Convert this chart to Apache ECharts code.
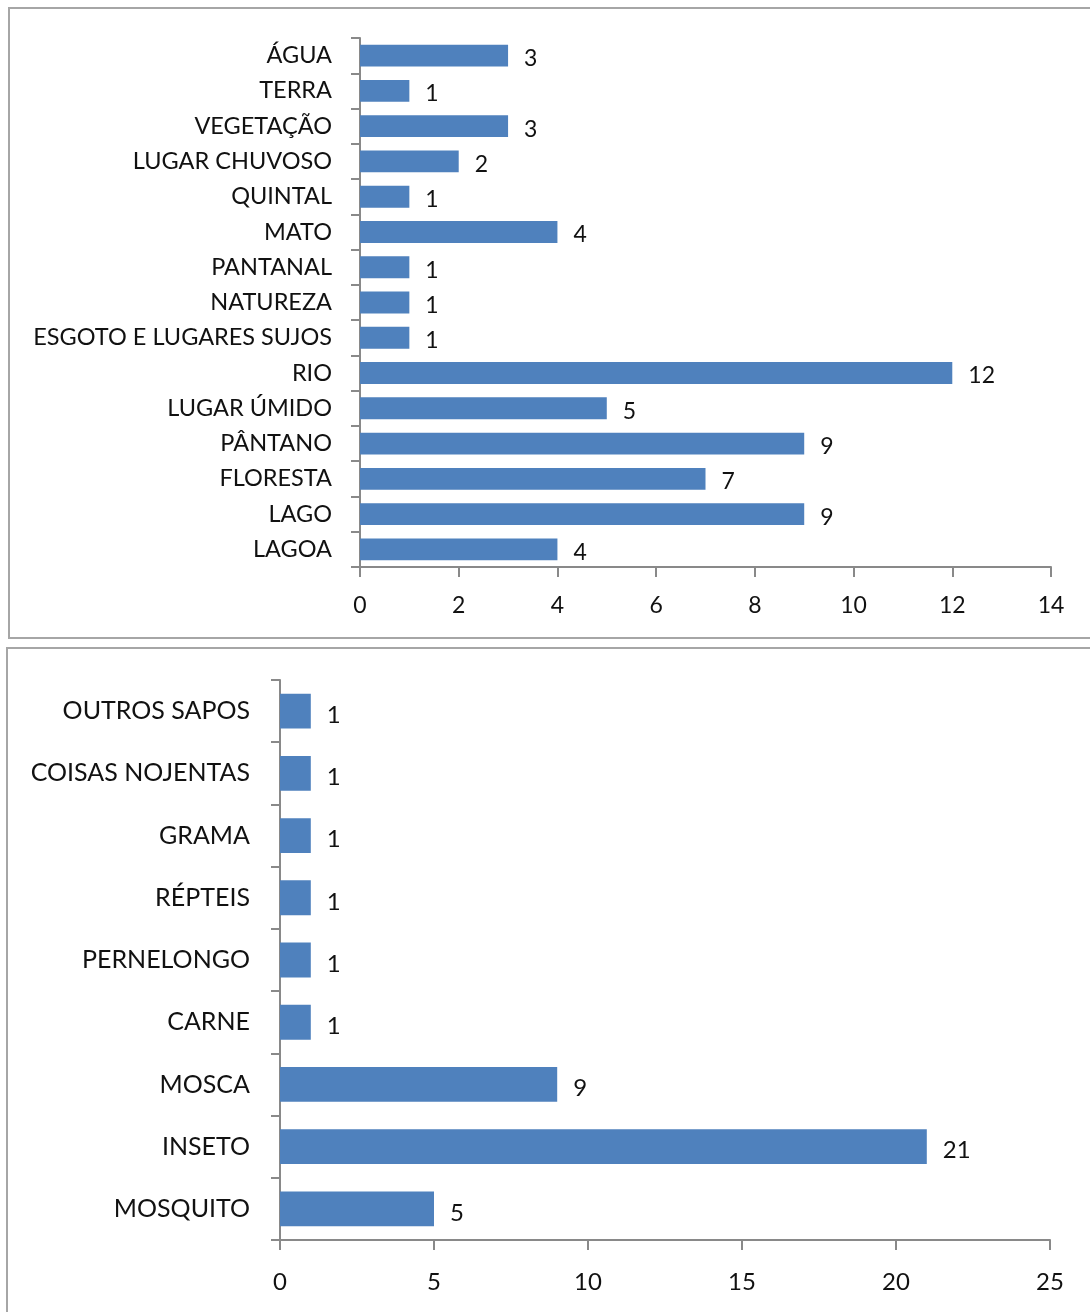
<!DOCTYPE html>
<html><head><meta charset="utf-8">
<script src="https://cdn.jsdelivr.net/npm/echarts@6/dist/echarts.min.js"></script>
<style>html,body{margin:0;padding:0;background:#fff}#c{width:1090px;height:1312px}</style>
</head><body><div id="c"></div>
<script>
const topCategories = ['ÁGUA','TERRA','VEGETAÇÃO','LUGAR CHUVOSO','QUINTAL','MATO','PANTANAL','NATUREZA','ESGOTO E LUGARES SUJOS','RIO','LUGAR ÚMIDO','PÂNTANO','FLORESTA','LAGO','LAGOA'];
const topValues = [3,1,3,2,1,4,1,1,1,12,5,9,7,9,4];
const topTicks = [0,2,4,6,8,10,12,14];
const bottomCategories = ['OUTROS SAPOS','COISAS NOJENTAS','GRAMA','RÉPTEIS','PERNELONGO','CARNE','MOSCA','INSETO','MOSQUITO'];
const bottomValues = [1,1,1,1,1,1,9,21,5];
const bottomTicks = [0,5,10,15,20,25];

const FONT = 'Lato';
const axisColor = '#898989';
const barColor = '#4f81bd';

function valueAxis(gi, ticks, margin, size) {
  const step = ticks[1] - ticks[0];
  return {
    type: 'value', gridIndex: gi, min: ticks[0], max: ticks[ticks.length-1], interval: step,
    axisLine: {show: true, lineStyle: {color: axisColor, width: 2}},
    axisTick: {show: true, length: 10, lineStyle: {color: axisColor, width: 2}},
    splitLine: {show: false},
    axisLabel: {color: '#111', fontFamily: FONT, fontSize: size, margin: margin}
  };
}
function catAxis(gi, cats, margin, size, padTop) {
  return {
    type: 'category', gridIndex: gi, data: cats, inverse: true,
    axisLine: {show: true, lineStyle: {color: axisColor, width: 2}},
    axisTick: {show: true, length: 9, alignWithLabel: false, lineStyle: {color: axisColor, width: 2}},
    axisLabel: {color: '#111', fontFamily: FONT, fontSize: size, margin: margin, interval: 0, padding: [padTop, 0, 0, 0]}
  };
}

const chart = echarts.init(document.getElementById('c'), null, {renderer: 'canvas'});
chart.setOption({
  animation: false,
  backgroundColor: '#fff',
  graphic: [
    {type: 'rect', shape: {x: 9, y: 8, width: 1100, height: 630}, style: {fill: 'none', stroke: '#a6a6a6', lineWidth: 2}},
    {type: 'rect', shape: {x: 7, y: 648, width: 1100, height: 680}, style: {fill: 'none', stroke: '#a6a6a6', lineWidth: 2}}
  ],
  grid: [
    {left: 360, right: 39, top: 38, bottom: 745},
    {left: 280, right: 40, top: 680, bottom: 72}
  ],
  xAxis: [valueAxis(0, topTicks, 27, 23), valueAxis(1, bottomTicks, 30, 24)],
  yAxis: [catAxis(0, topCategories, 28, 23.5, 3), catAxis(1, bottomCategories, 30, 25, 5)],
  series: [
    {type: 'bar', xAxisIndex: 0, yAxisIndex: 0, data: topValues, barCategoryGap: '38%',
     itemStyle: {color: barColor},
     label: {show: true, position: 'right', distance: 16, color: '#111', fontFamily: FONT, fontSize: 23, offset: [0, 3]}},
    {type: 'bar', xAxisIndex: 1, yAxisIndex: 1, data: bottomValues, barCategoryGap: '44%',
     itemStyle: {color: barColor},
     label: {show: true, position: 'right', distance: 16, color: '#111', fontFamily: FONT, fontSize: 24, offset: [0, 4]}}
  ]
});
</script></body></html>
